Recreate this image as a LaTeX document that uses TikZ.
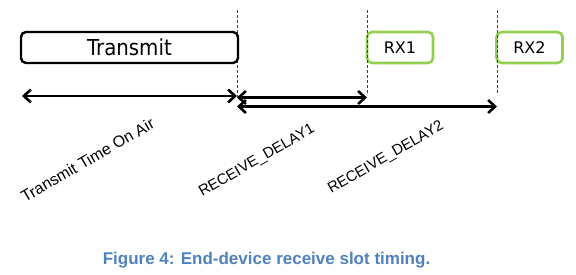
\documentclass[tikz,border=0pt]{standalone}
\usepackage{fontspec}
\setmainfont{Liberation Sans}
\newfontfamily\dvfont{DejaVu Sans}
\newfontfamily\dvcfont{DejaVu Sans Condensed}
\usetikzlibrary{arrows.meta}
\definecolor{rxgreen}{RGB}{146,208,80}
\definecolor{capblue}{RGB}{79,129,189}
\tikzset{
  txbox/.style={draw=black, line width=2.4pt, rounded corners=5pt, minimum width=217pt, minimum height=31pt, inner sep=0pt, font=\dvcfont\fontsize{22}{24}\selectfont},
  rxbox/.style={draw=rxgreen, line width=2.6pt, rounded corners=5pt, minimum width=66pt, minimum height=31pt, inner sep=0pt, font=\dvfont\fontsize{16}{18}\selectfont},
  vline/.style={draw=black!75, line width=1pt, dash pattern=on 3pt off 2pt},
  timearrow/.style={line width=2.6pt, {Straight Barb[length=7pt,width=13pt]}-{Straight Barb[length=7pt,width=13pt]}},
  lbl/.style={rotate=30, inner sep=0pt, font=\fontsize{15}{17}\selectfont},
  figcaption/.style={inner sep=0pt, text=capblue, font=\bfseries\fontsize{17}{19}\selectfont}
}
\begin{document}
\begin{tikzpicture}[x=1pt, y=-1pt]
\useasboundingbox (0,0) rectangle (576,275);
% dashed markers
\coordinate (v0t) at (237,10);  \coordinate (v0b) at (237,97);
\coordinate (v1t) at (367,10);  \coordinate (v1b) at (367,95);
\coordinate (v2t) at (497,10);  \coordinate (v2b) at (497,95);
\draw[vline] (v0t) -- (v0b);
% boxes
\node[txbox, fill=white] (tx) at (129.5,47.5) {Transmit};
\node[rxbox, fill=white] (rx1) at (400,47.5) {RX1};
\node[rxbox, fill=white] (rx2) at (529.5,47.5) {RX2};
\draw[vline] (v1t) -- (v1b);
\draw[vline] (v2t) -- (v2b);
% arrows
\coordinate (ta) at (22,96);   \coordinate (tb) at (237,96);
\coordinate (d1a) at (237,97.5); \coordinate (d1b) at (367,97.5);
\coordinate (d2a) at (237,106.5); \coordinate (d2b) at (497,106.5);
\draw[timearrow] (ta) -- (tb);
\draw[timearrow] (d1a) -- (d1b);
\draw[timearrow] (d2a) -- (d2b);
% labels
\node[lbl, font=\fontsize{16}{18}\selectfont] (ltoa) at (87.5,160) {Transmit Time On Air};
\node[lbl] (ld1) at (257,161) {RECEIVE\_DELAY1};
\node[lbl] (ld2) at (386,158) {RECEIVE\_DELAY2};
% caption
\node[figcaption] (caption) at (266.5,260) {Figure 4: End-device receive slot timing.};
\end{tikzpicture}
\end{document}
